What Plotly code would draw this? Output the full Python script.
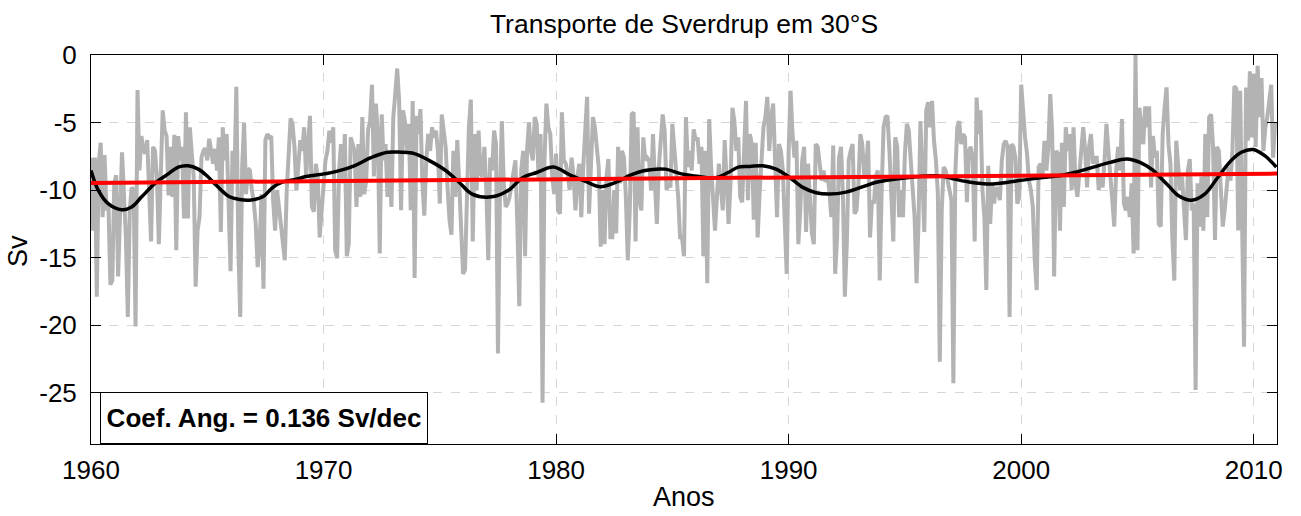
import numpy as np
import plotly.graph_objects as go

# ---------------- data ----------------
start_year = 1960
# monthly Sverdrup transport at 30S, Jan 1960 .. Dec 2010 (one row per year)
transport_sv = [
    -7.6, -13.0, -7.6, -17.9, -8.0, -6.5, -12.0, -7.4, -11.5, -11.0, -17.0, -16.7,   # 1960
    -9.5, -8.9, -16.4, -12.0, -7.2, -10.3, -13.5, -19.4, -11.5, -9.8, -10.0, -20.1,  # 1961
    -2.6, -8.55, -6.0, -7.0, -7.3, -6.3, -9.5, -13.8, -6.8, -7.1, -9.0, -14.0,       # 1962
    -9.0, -4.1, -5.6, -6.0, -10.4, -6.8, -10.5, -5.9, -14.45, -6.0, -7.8, -6.8,      # 1963
    -12.1, -4.25, -12.1, -5.36, -7.3, -9.0, -17.15, -13.0, -12.0, -7.6, -7.1, -6.9,  # 1964
    -7.8, -6.2, -7.1, -8.05, -6.95, -8.55, -6.1, -13.1, -5.35, -7.8, -5.85, -10.6,   # 1965
    -16.0, -7.1, -9.3, -2.36, -14.0, -19.4, -8.3, -5.0, -10.3, -8.4, -8.55, -10.0,   # 1966
    -10.9, -12.5, -15.7, -14.0, -10.3, -17.3, -6.3, -5.85, -6.1, -6.0, -10.8, -13.0, # 1967
    -10.0, -11.25, -12.7, -14.0, -15.2, -10.0, -7.1, -4.7, -5.1, -6.8, -10.0, -7.8,  # 1968
    -6.3, -7.1, -5.35, -9.0, -6.8, -4.5, -11.25, -11.6, -8.05, -9.0, -13.5, -11.75,  # 1969
    -10.0, -7.8, -7.1, -5.6, -6.5, -5.35, -14.45, -15.05, -8.55, -6.6, -9.5, -5.85,  # 1970
    -14.9, -14.0, -6.1, -6.5, -7.1, -11.25, -6.6, -10.5, -4.6, -10.3, -9.3, -5.5,    # 1971
    -4.9, -2.2, -9.0, -3.6, -5.85, -14.7, -4.4, -7.8, -6.6, -10.5, -7.1, -11.25,     # 1972
    -4.6, -2.9, -1.0, -3.4, -11.5, -4.1, -4.9, -7.1, -5.1, -11.5, -3.4, -16.5,       # 1973
    -4.5, -5.85, -4.0, -9.5, -11.9, -7.8, -5.85, -7.1, -5.35, -6.1, -5.6, -7.1,      # 1974
    -11.0, -4.4, -5.85, -6.8, -9.8, -12.2, -13.3, -7.1, -10.5, -6.3, -9.5, -13.5,    # 1975
    -16.2, -15.9, -9.0, -5.35, -3.3, -13.8, -5.85, -10.0, -5.6, -8.8, -9.0, -6.8,    # 1976
    -10.0, -15.2, -7.6, -8.55, -5.6, -6.6, -22.1, -10.5, -4.9, -9.5, -11.25, -11.0,  # 1977
    -10.5, -9.5, -8.3, -7.8, -12.5, -18.6, -8.55, -7.1, -14.9, -7.1, -5.0, -7.1,     # 1978
    -7.8, -4.6, -5.1, -9.3, -5.85, -25.75, -7.8, -3.6, -5.35, -5.85, -9.0, -10.3,    # 1979
    -7.3, -11.5, -11.75, -4.25, -7.8, -8.05, -8.8, -10.0, -7.6, -9.0, -11.5, -9.0,   # 1980
    -8.05, -12.0, -8.3, -5.6, -3.1, -11.75, -7.8, -4.6, -5.35, -7.1, -8.3, -14.2,    # 1981
    -10.0, -14.0, -9.0, -7.7, -13.5, -13.5, -10.0, -13.2, -6.8, -9.5, -7.1, -7.6,    # 1982
    -10.5, -15.2, -11.5, -4.4, -4.25, -13.8, -5.35, -10.75, -11.5, -6.1, -7.8, -7.6, # 1983
    -7.8, -10.0, -5.85, -9.5, -12.5, -8.3, -6.1, -4.4, -5.6, -10.0, -9.5, -9.8,      # 1984
    -5.1, -7.1, -8.8, -10.5, -13.6, -13.5, -14.9, -4.6, -8.3, -7.1, -8.55, -5.5,     # 1985
    -6.3, -6.1, -8.05, -6.8, -14.9, -7.1, -16.9, -4.75, -8.3, -10.75, -13.0, -10.5,  # 1986
    -8.05, -9.8, -11.5, -6.3, -8.8, -12.5, -9.5, -3.9, -4.9, -7.1, -6.1, -10.5,      # 1987
    -10.9, -7.8, -3.4, -10.75, -5.85, -6.6, -12.2, -6.5, -13.5, -10.3, -7.1, -5.35,  # 1988
    -4.6, -3.1, -7.1, -4.6, -3.6, -7.8, -12.0, -6.6, -7.1, -8.55, -12.0, -16.2,      # 1989
    -7.1, -2.65, -5.85, -7.6, -6.35, -14.0, -11.5, -7.8, -6.8, -13.1, -8.05, -11.25, # 1990
    -13.2, -14.0, -6.6, -6.8, -8.3, -9.3, -8.55, -9.4, -9.0, -10.0, -12.0, -6.7,     # 1991
    -16.2, -13.5, -7.6, -6.8, -10.3, -17.9, -14.0, -7.8, -7.1, -6.6, -11.75, -11.5,  # 1992
    -9.5, -5.85, -6.6, -9.0, -8.3, -6.35, -13.5, -10.75, -11.0, -9.0, -8.55, -16.7,  # 1993
    -10.0, -5.35, -4.6, -4.5, -7.1, -10.3, -13.8, -6.1, -6.8, -12.0, -10.0, -12.0,   # 1994
    -7.3, -5.1, -5.6, -7.8, -10.0, -12.0, -16.9, -12.5, -4.9, -9.0, -13.1, -4.1,     # 1995
    -3.5, -5.35, -3.4, -6.35, -7.8, -10.3, -22.7, -11.5, -8.3, -8.55, -9.5, -10.0,   # 1996
    -10.75, -24.3, -8.8, -5.35, -4.9, -6.6, -5.85, -6.1, -10.9, -7.1, -6.8, -7.8,    # 1997
    -13.8, -3.15, -5.85, -4.1, -10.0, -12.0, -17.4, -8.2, -12.5, -9.5, -11.0, -9.8,  # 1998
    -10.0, -10.75, -7.8, -6.6, -6.35, -6.8, -19.4, -6.6, -6.8, -7.6, -11.0, -10.5,   # 1999
    -2.2, -4.6, -6.1, -7.3, -9.3, -10.0, -11.25, -15.2, -17.4, -8.3, -8.05, -9.0,    # 2000
    -6.35, -8.55, -6.8, -2.9, -5.85, -16.4, -7.1, -7.3, -13.0, -6.5, -11.25, -5.35,  # 2001
    -7.1, -5.85, -10.0, -5.35, -9.5, -10.5, -9.0, -7.1, -5.35, -7.1, -9.8, -6.8,     # 2002
    -5.85, -8.05, -7.6, -7.6, -10.0, -9.0, -9.8, -7.8, -5.1, -7.1, -8.55, -10.75,    # 2003
    -12.7, -8.55, -6.8, -8.55, -4.75, -11.0, -11.5, -10.5, -12.0, -9.5, -14.7, 0.0,  # 2004
    -14.45, -3.9, -5.35, -6.6, -3.8, -5.35, -3.8, -9.8, -6.0, -7.6, -7.1, -12.5,     # 2005
    -12.7, -5.85, -3.9, -2.4, -6.6, -8.05, -13.5, -16.7, -6.35, -8.05, -10.0, -9.0,  # 2006
    -12.0, -13.7, -8.55, -7.7, -11.5, -11.0, -24.8, -9.5, -12.7, -9.0, -13.0, -5.85, # 2007
    -12.0, -4.6, -4.4, -6.8, -13.7, -6.8, -7.1, -10.3, -12.7, -11.5, -9.8, -8.3,     # 2008
    -9.3, -7.1, -2.3, -2.5, -13.0, -2.65, -12.5, -21.6, -2.4, -6.35, -1.2, -6.1,     # 2009
    -1.4, -6.8, -0.8, -4.6, -1.7, -7.1, -5.35, -4.6, -3.4, -2.2, -7.6, -5.0,         # 2010
]

# low-pass filtered series (black curve)
filt_years = [1960.0, 1960.31, 1960.74, 1961.32, 1961.75, 1962.18, 1962.75, 1963.32, 1963.75,
              1964.18, 1964.61, 1964.96, 1965.39, 1965.96, 1966.39, 1966.82, 1967.39, 1967.82,
              1968.25, 1968.83, 1969.26, 1970.03, 1970.6, 1971.32, 1972.04, 1972.75, 1973.33,
              1973.9, 1974.53, 1975.25, 1975.82, 1976.39, 1977.25, 1977.97, 1978.54, 1979.17,
              1979.89, 1980.61, 1981.32, 1981.9, 1982.61, 1983.19, 1983.82, 1984.68, 1985.39,
              1985.97, 1986.83, 1987.4, 1987.83, 1988.32, 1988.89, 1989.46, 1990.03, 1990.61,
              1991.18, 1991.75, 1992.47, 1993.1, 1993.82, 1994.54, 1995.25, 1995.97, 1996.69,
              1997.03, 1997.75, 1998.75, 1999.9, 2000.76, 2001.76, 2002.39, 2003.1, 2003.82,
              2004.54, 2005.11, 2005.68, 2005.97, 2006.4, 2006.75, 2007.32, 2007.89, 2008.46,
              2009.04, 2009.47, 2009.97, 2010.47, 2010.97]
filt_sv = [-8.55, -10.0, -11.0, -11.45, -11.25, -10.5, -9.5, -8.8, -8.3,
           -8.2, -8.45, -8.9, -9.65, -10.5, -10.7, -10.75, -10.5, -9.8,
           -9.4, -9.2, -9.0, -8.8, -8.6, -8.2, -7.6, -7.2, -7.2,
           -7.3, -7.8, -8.55, -9.4, -10.3, -10.5, -10.0, -9.1, -8.7,
           -8.3, -8.9, -9.4, -9.75, -9.4, -8.9, -8.55, -8.45, -8.8,
           -8.95, -9.1, -8.7, -8.3, -8.25, -8.2, -8.45, -9.05, -9.8,
           -10.2, -10.3, -10.15, -9.8, -9.4, -9.2, -9.05, -8.95, -9.0,
           -9.15, -9.4, -9.55, -9.3, -9.1, -8.9, -8.65, -8.3, -7.95,
           -7.7, -7.95, -8.55, -9.05, -9.8, -10.4, -10.75, -10.3, -9.05,
           -7.8, -7.2, -7.0, -7.45, -8.3]

# linear trend (red line), 0.136 Sv/decade
trend_years = [1960, 2011]
trend_sv = [-9.47, -8.78]

x_ticks = [1960, 1970, 1980, 1990, 2000, 2010]
y_ticks = [-25, -20, -15, -10, -5, 0]
title_text = "Transporte de Sverdrup em 30°S"
box_text = "Coef. Ang. = 0.136 Sv/dec"
x_label = "Anos"
y_label = "Sv"

# ---------------- figure ----------------
months = start_year + np.arange(len(transport_sv)) / 12.0
FONT = "Liberation Sans, Arial, Helvetica, sans-serif"
W, H = 1301, 516
L, R, T, B = 91, 24, 55, 72

fig = go.Figure()
fig.add_trace(go.Scatter(x=months, y=transport_sv, mode="lines",
                         line=dict(color="#b3b3b3", width=4), showlegend=False,
                         hoverinfo="skip"))
fig.add_trace(go.Scatter(x=filt_years, y=filt_sv, mode="lines",
                         line=dict(color="black", width=3.5, shape="spline", smoothing=1.0),
                         showlegend=False, hoverinfo="skip"))
fig.add_trace(go.Scatter(x=trend_years, y=trend_sv, mode="lines",
                         line=dict(color="#ff0000", width=4), showlegend=False,
                         hoverinfo="skip"))

axis_common = dict(
    showline=True, linecolor="black", linewidth=1, mirror="allticks",
    ticks="inside", ticklen=10, tickwidth=1, tickcolor="black",
    showgrid=True, gridcolor="#d6d6d6", gridwidth=1, griddash="dash",
    zeroline=False, automargin=False,
    tickfont=dict(family=FONT, size=26, color="black"),
)

fig.update_xaxes(range=[1960, 2011], tickvals=x_ticks,
                 ticktext=[str(v) for v in x_ticks], ticklabelstandoff=3,
                 **axis_common)
fig.update_yaxes(range=[-28.8, 0], tickvals=y_ticks,
                 ticktext=[str(v) for v in y_ticks], ticklabelstandoff=8,
                 **axis_common)

# axis titles as positioned text
fig.add_annotation(text=x_label, xref="paper", yref="paper",
                   x=0.5, y=-(497 - (H - B)) / (H - T - B), xanchor="center", yanchor="middle",
                   showarrow=False, font=dict(family=FONT, size=27, color="black"))
fig.add_annotation(text=y_label, xref="paper", yref="paper",
                   x=-(L - 18) / (W - L - R), y=(H - B - 251) / (H - T - B),
                   xanchor="center", yanchor="middle", textangle=-90,
                   showarrow=False, font=dict(family=FONT, size=27, color="black"))

fig.add_annotation(text="<b>" + box_text + "</b>", xref="paper", yref="paper",
                   x=(100 - L) / (W - L - R), y=0.0, xanchor="left", yanchor="bottom",
                   showarrow=False, width=314, height=38, align="center", valign="middle",
                   font=dict(family=FONT, size=26, color="black"),
                   bordercolor="black", borderwidth=1, borderpad=6, bgcolor="white")

fig.update_layout(
    width=W, height=H,
    margin=dict(l=L, r=R, t=T, b=B, autoexpand=False),
    paper_bgcolor="white", plot_bgcolor="white",
    hovermode=False,
    title=dict(text=title_text, x=0.5, xref="paper", xanchor="center",
               y=1 - 24 / H, yref="container", yanchor="middle",
               font=dict(family=FONT, size=26.5, color="black")),
)

fig.write_html("out.html", config={"displayModeBar": False, "staticPlot": True},
               post_script="document.body.style.margin='0';document.body.style.padding='0';"
                           "document.documentElement.style.overflow='hidden';")
